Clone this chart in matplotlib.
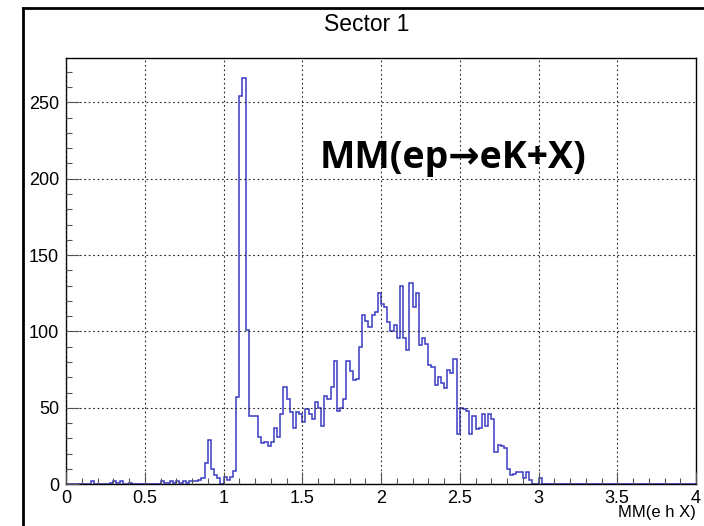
import numpy as np
import matplotlib
matplotlib.use("Agg")
import matplotlib.pyplot as plt
from matplotlib.lines import Line2D
from matplotlib.ticker import MultipleLocator

# ---- data: 200 bins of width 0.02 on [0, 4] ----
bin_lo = 0.0
bin_hi = 4.0
n_bins = 200
counts_nonzero = {
    8: 2, 14: 1, 15: 2, 16: 1, 17: 2, 20: 1,
    30: 2, 31: 1, 32: 1, 33: 2, 34: 1, 35: 2, 36: 1, 37: 2, 38: 1, 39: 2,
    40: 2, 41: 2, 42: 3, 43: 4, 44: 14, 45: 29, 46: 10, 47: 6, 48: 4,
    50: 5, 51: 3, 52: 5, 53: 9, 54: 57, 55: 254, 56: 266, 57: 101,
    58: 45, 59: 45, 60: 45, 61: 31, 62: 27, 63: 28, 64: 25, 65: 28,
    66: 37, 67: 31, 68: 46, 69: 64, 70: 56, 71: 47, 72: 37, 73: 47,
    74: 46, 75: 41, 76: 49, 77: 46, 78: 43, 79: 54, 80: 50, 81: 38,
    82: 58, 83: 56, 84: 64, 85: 81, 86: 48, 87: 50, 88: 56, 89: 81,
    90: 74, 91: 68, 92: 69, 93: 90, 94: 111, 95: 107, 96: 103, 97: 111,
    98: 113, 99: 125, 100: 118, 101: 116, 102: 106, 103: 100, 104: 104,
    105: 96, 106: 130, 107: 96, 108: 88, 109: 132, 110: 116, 111: 125,
    112: 91, 113: 96, 114: 92, 115: 78, 116: 77, 117: 65, 118: 70,
    119: 66, 120: 63, 121: 75, 122: 73, 123: 82, 124: 33, 125: 50,
    126: 49, 127: 48, 128: 33, 129: 45, 130: 36, 131: 37, 132: 46,
    133: 38, 134: 46, 135: 43, 136: 21, 137: 26, 138: 25, 139: 24,
    140: 10, 141: 6, 142: 7, 143: 8, 144: 8, 145: 4, 146: 8, 147: 3,
    150: 4,
}
counts = np.zeros(n_bins)
for k, v in counts_nonzero.items():
    counts[k] = v
edges = np.linspace(bin_lo, bin_hi, n_bins + 1)

title = "Sector 1"
xlabel = "MM(e h X)"
annotation = "MM(ep\u2192eK+X)"

# ---- figure ----
fig = plt.figure(figsize=(7.04, 5.26), dpi=100)
fig.patch.set_facecolor("white")
ax = fig.add_axes([66 / 704, 1 - 484.3 / 526, 630 / 704, 426.8 / 526])

ax.stairs(counts, edges, color="#3a3ac4", lw=1.1, baseline=0)

ax.set_xlim(bin_lo, bin_hi)
ax.set_ylim(0, counts.max() * 1.05)

ax.xaxis.set_major_locator(MultipleLocator(0.5))
ax.xaxis.set_minor_locator(MultipleLocator(0.1))
ax.yaxis.set_major_locator(MultipleLocator(50))
ax.yaxis.set_minor_locator(MultipleLocator(10))

ax.grid(True, which="major", color="#222222", lw=0.8, linestyle=(0, (1.5, 2.5)))
ax.set_axisbelow(False)

ax.tick_params(which="both", direction="in", top=False, right=False,
               color="#555555", width=0.8)
ax.tick_params(which="major", length=9)
ax.tick_params(which="minor", length=4.5)
ax.tick_params(axis="x", which="major", pad=4, labelsize=13)
ax.tick_params(axis="y", which="major", pad=5, labelsize=13)

def fmt(v, pos=None):
    return f"{v:g}"
ax.xaxis.set_major_formatter(plt.FuncFormatter(fmt))
ax.yaxis.set_major_formatter(plt.FuncFormatter(fmt))

for lab in ax.get_xticklabels() + ax.get_yticklabels():
    lab.set_family("Liberation Sans")

for sp in ax.spines.values():
    sp.set_color("black")
    sp.set_linewidth(1.0)

fig.text(696 / 704, 1 - 512 / 526, xlabel, ha="right", va="center",
         fontsize=12, family="Liberation Sans")
fig.text(367 / 704, 1 - 24.5 / 526, title, ha="center", va="center",
         fontsize=16.5, family="Liberation Sans")
fig.text(320 / 704, 1 - 158 / 526, annotation, ha="left", va="center",
         fontsize=27, fontweight="bold", family=["Open Sans", "DejaVu Sans"])

# canvas border seen in the screenshot
fig.add_artist(Line2D([22.5 / 704, 22.5 / 704], [0, 1 - 7.5 / 526],
                      transform=fig.transFigure, color="black", lw=2))
fig.add_artist(Line2D([22.5 / 704, 1], [1 - 7.5 / 526, 1 - 7.5 / 526],
                      transform=fig.transFigure, color="black", lw=2))

fig.savefig("out.png", dpi=100)
